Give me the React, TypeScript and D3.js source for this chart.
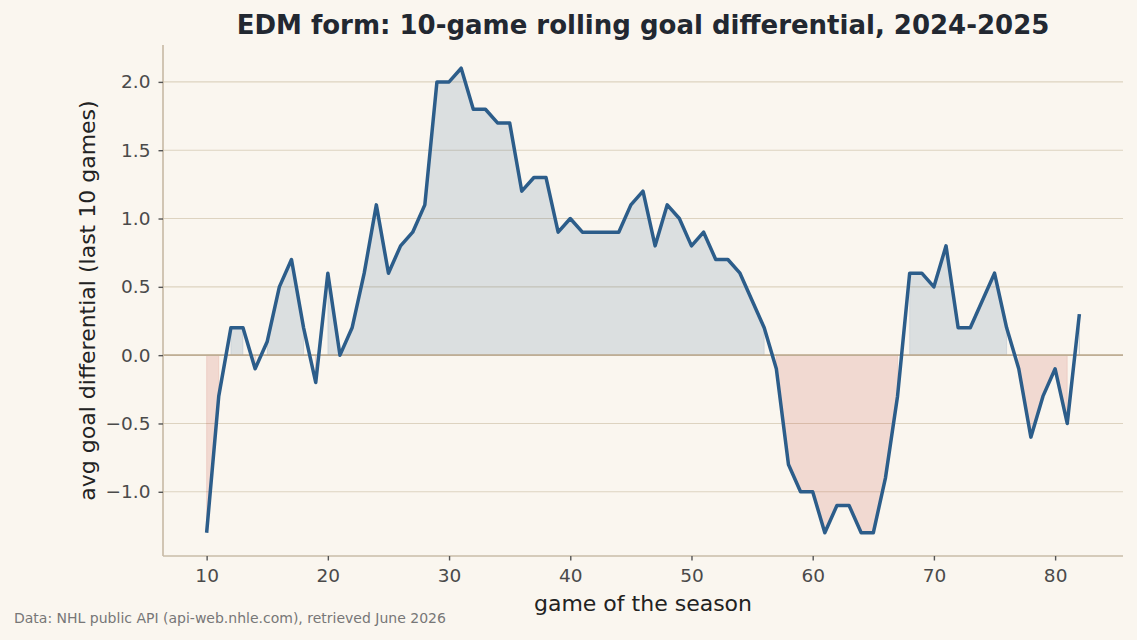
import { useEffect, useRef } from "react";
import * as d3 from "d3";

// rolling 10-game average goal differential, games 10..82
const games: number[] = d3.range(10, 83);
const rollingDiff: number[] = [
	-1.3, -0.3, 0.2, 0.2, -0.1, 0.1, 0.5, 0.7, 0.2, -0.2,
	0.6, 0.0, 0.2, 0.6, 1.1, 0.6, 0.8, 0.9, 1.1, 2.0,
	2.0, 2.1, 1.8, 1.8, 1.7, 1.7, 1.2, 1.3, 1.3, 0.9,
	1.0, 0.9, 0.9, 0.9, 0.9, 1.1, 1.2, 0.8, 1.1, 1.0,
	0.8, 0.9, 0.7, 0.7, 0.6, 0.4, 0.2, -0.1, -0.8, -1.0,
	-1.0, -1.3, -1.1, -1.1, -1.3, -1.3, -0.9, -0.3, 0.6, 0.6,
	0.5, 0.8, 0.2, 0.2, 0.4, 0.6, 0.2, -0.1, -0.6, -0.3,
	-0.1, -0.5, 0.3
];
const xTicks = [10, 20, 30, 40, 50, 60, 70, 80];
const yTicks = [-1.0, -0.5, 0.0, 0.5, 1.0, 1.5, 2.0];

const WIDTH = 1137;
const HEIGHT = 640;
const FONT = "'DejaVu Sans', sans-serif";

const BG = "#faf6ef";
const LINE = "#2c5d8a";
const NEG = "#c0392b";
const GRID = "#ddd3c0";
const SPINE = "#c9bca8";
const TICK_TEXT = "#4a4a4a";

interface Point {
	game: number;
	value: number;
}

const points: Point[] = games.map((game, i) => ({ game, value: rollingDiff[i] }));

const formatTick = (v: number) => (v < 0 ? `\u2212${Math.abs(v).toFixed(1)}` : v.toFixed(1));

export default function App() {
	const svgRef = useRef<SVGSVGElement>(null);

	useEffect(() => {
		document.body.style.margin = "0";
		if (!svgRef.current) return;

		const svg = d3.select(svgRef.current);
		svg.selectAll("*").remove();

		const margin = { top: 45, right: 14, bottom: 84, left: 163 };
		const innerW = WIDTH - margin.left - margin.right;
		const innerH = HEIGHT - margin.top - margin.bottom;

		// 5% padding on both axes, like the usual autoscale
		const xPad = (82 - 10) * 0.05;
		const yMin = d3.min(rollingDiff) ?? 0;
		const yMax = d3.max(rollingDiff) ?? 0;
		const yPad = (yMax - yMin) * 0.05;

		const x = d3.scaleLinear().domain([10 - xPad, 82 + xPad]).range([0, innerW]);
		const y = d3.scaleLinear().domain([yMin - yPad, yMax + yPad]).range([innerH, 0]);

		svg.append("rect").attr("width", WIDTH).attr("height", HEIGHT).attr("fill", BG);

		const g = svg.append("g").attr("transform", `translate(${margin.left},${margin.top})`);

		// horizontal grid
		g.append("g")
			.selectAll("line")
			.data(yTicks)
			.join("line")
			.attr("x1", 0)
			.attr("x2", innerW)
			.attr("y1", (d) => y(d))
			.attr("y2", (d) => y(d))
			.attr("stroke", GRID)
			.attr("stroke-width", 1.1);

		// shaded regions above/below zero
		const posArea = d3
			.area<Point>()
			.defined((d) => d.value >= 0)
			.x((d) => x(d.game))
			.y0(y(0))
			.y1((d) => y(d.value));
		const negArea = d3
			.area<Point>()
			.defined((d) => d.value < 0)
			.x((d) => x(d.game))
			.y0(y(0))
			.y1((d) => y(d.value));

		g.append("path")
			.attr("d", posArea(points))
			.attr("fill", LINE)
			.attr("fill-opacity", 0.15)
			.attr("stroke", LINE)
			.attr("stroke-opacity", 0.12)
			.attr("stroke-width", 1);
		g.append("path")
			.attr("d", negArea(points))
			.attr("fill", NEG)
			.attr("fill-opacity", 0.15)
			.attr("stroke", NEG)
			.attr("stroke-opacity", 0.12)
			.attr("stroke-width", 1);

		// zero reference
		g.append("line")
			.attr("x1", 0)
			.attr("x2", innerW)
			.attr("y1", y(0))
			.attr("y2", y(0))
			.attr("stroke", "#bfae95")
			.attr("stroke-width", 1.7);

		const line = d3
			.line<Point>()
			.x((d) => x(d.game))
			.y((d) => y(d.value));

		g.append("path")
			.attr("d", line(points))
			.attr("fill", "none")
			.attr("stroke", LINE)
			.attr("stroke-width", 3.5)
			.attr("stroke-linejoin", "round");

		// axes
		const xAxis = g
			.append("g")
			.attr("transform", `translate(0,${innerH})`)
			.call(d3.axisBottom(x).tickValues(xTicks).tickSize(4.5).tickPadding(8).tickFormat((d) => `${d}`));
		const yAxis = g
			.append("g")
			.call(d3.axisLeft(y).tickValues(yTicks).tickSize(4.5).tickPadding(8).tickFormat((d) => formatTick(+d)));

		[xAxis, yAxis].forEach((ax) => {
			ax.select(".domain").attr("stroke", SPINE).attr("stroke-width", 1.7);
			ax.selectAll(".tick line").attr("stroke", "#555").attr("stroke-width", 1.4);
			ax.selectAll(".tick text")
				.attr("fill", TICK_TEXT)
				.attr("font-size", 18.5)
				.attr("font-family", FONT);
		});
		xAxis.select(".domain").attr("d", `M0,0H${innerW}`);
		yAxis.select(".domain").attr("d", `M0,0V${innerH}`);

		// titles
		svg.append("text")
			.attr("x", margin.left + innerW / 2)
			.attr("y", 34)
			.attr("text-anchor", "middle")
			.attr("font-family", FONT)
			.attr("font-weight", "bold")
			.attr("font-size", 26)
			.attr("fill", "#222831")
			.text("EDM form: 10-game rolling goal differential, 2024-2025");

		svg.append("text")
			.attr("x", margin.left + innerW / 2)
			.attr("y", 611)
			.attr("text-anchor", "middle")
			.attr("font-family", FONT)
			.attr("font-size", 22)
			.attr("fill", "#222")
			.text("game of the season");

		svg.append("text")
			.attr("transform", `translate(95,${margin.top + innerH / 2}) rotate(-90)`)
			.attr("text-anchor", "middle")
			.attr("font-family", FONT)
			.attr("font-size", 22)
			.attr("fill", "#222")
			.text("avg goal differential (last 10 games)");

		svg.append("text")
			.attr("x", 14)
			.attr("y", 623)
			.attr("font-family", FONT)
			.attr("font-size", 14)
			.attr("fill", "#777")
			.text("Data: NHL public API (api-web.nhle.com), retrieved June 2026");
	}, []);

	return <svg ref={svgRef} width={WIDTH} height={HEIGHT} style={{ display: "block" }} />;
}
